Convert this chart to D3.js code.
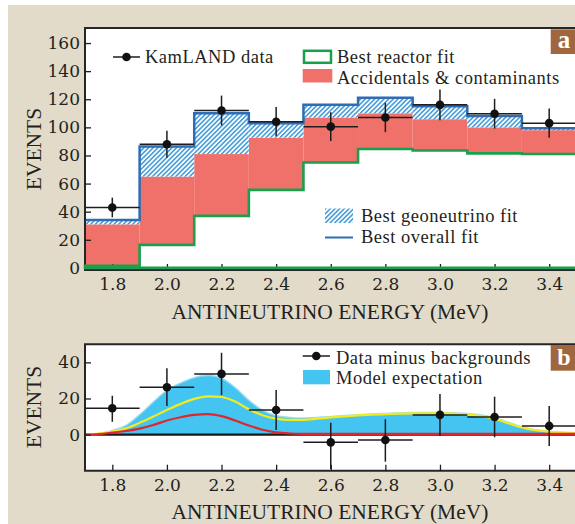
<!DOCTYPE html>
<html><head><meta charset="utf-8">
<script src="https://cdn.jsdelivr.net/npm/d3@7"></script>
<style>html,body{margin:0;padding:0;background:#fff;} svg{display:block}</style>
</head><body>
<svg id="c" width="575" height="524"></svg>
<script>
// ---------- data ----------
const binCenters = [1.8, 2.0, 2.2, 2.4, 2.6, 2.8, 3.0, 3.2, 3.4];
const binHalf = 0.1;
const xTicks = [1.8, 2.0, 2.2, 2.4, 2.6, 2.8, 3.0, 3.2, 3.4];
const yTicksTop = [0, 20, 40, 60, 80, 100, 120, 140, 160];
const yTicksBot = [0, 20, 40];

// panel a
const kamlandData = [43, 88, 112, 104, 100.5, 107, 116, 109.7, 103];
const kamlandErr  = [7, 9.6, 10.6, 10.4, 10.2, 10.4, 10.9, 10.6, 10.4];
const reactorFit  = [1.5, 16.4, 37, 55.5, 75, 84.6, 83.5, 81.5, 81];
const accidentalsTop = [31, 65, 81, 92.7, 107, 110, 105.8, 100, 98];
const overallFit  = [34, 86.3, 110, 103, 116, 121, 115, 108, 99.4];

// panel b
const diffData  = [14.6, 26.2, 33.6, 13.6, -4.3, -3, 10.9, 9.7, 4.8];
const diffErrLo = [7.1, 15.8, 21.9, 2.5, -19, -15, -0.8, -1.5, -6.3];
const diffErrHi = [21.5, 36.7, 45.3, 24.7, 6.6, 8.5, 22.5, 21, 15.8];

const modelE = [1.70,1.75,1.80,1.85,1.90,1.95,2.00,2.05,2.10,2.15,2.20,2.25,2.30,2.35,2.40,2.45,2.50,2.55,2.60,2.65,2.70,2.75,2.80,2.85,2.90,2.95,3.00,3.05,3.10,3.15,3.20,3.25,3.30,3.35,3.40,3.45,3.50];
const modelTotal = [0,0.5,2.3,5.0,11.0,18,24.5,28.5,31.5,32.8,31.2,26,19,13.5,10.5,9.5,9.2,9.5,10,10.5,11,11.4,11.7,12,12.2,12.2,12.2,12,11.6,10.8,9.3,6.8,4.2,2.6,1.8,1.2,0.9];
const modelYellow = [0,0.5,1.6,3.5,6.5,10,13.6,17,19.8,21.2,20.8,18.3,14,10.7,8.8,8.1,8.2,8.8,9.5,10.1,10.6,11,11.3,11.6,11.8,11.8,11.8,11.6,11.1,10.2,8.7,6.3,3.9,2.4,1.5,1.0,0.6];
const modelRed = [0,0.3,1.1,2.0,3.3,5.3,7.8,9.6,10.9,11.3,10.2,7.8,5.0,2.7,1.2,0.6,0.4,0.35,0.35,0.35,0.35,0.35,0.35,0.35,0.35,0.35,0.35,0.35,0.35,0.35,0.35,0.35,0.35,0.35,0.35,0.35,0.35];

// ---------- styles ----------
const C = {
  bg: '#e2dbc9', frame: '#262626', red: '#f0706a', green: '#1a9f4c',
  blue: '#2e6cb4', hatch: '#3c97d6', sky: '#44c4f1', skyEdge: '#8fd9f5',
  yellow: '#f4eb1c', redLine: '#e0262c', ink: '#1e1e1e', badge: '#a0673e'
};
const serif = "'Liberation Serif', 'Times New Roman', serif";
const numFont = "'DejaVu Serif', serif";

const svg = d3.select('#c');
svg.append('rect').attr('x', 8).attr('y', 5).attr('width', 567).attr('height', 519).attr('fill', C.bg);

const defs = svg.append('defs');
const pat = defs.append('pattern').attr('id', 'hatch').attr('patternUnits', 'userSpaceOnUse')
  .attr('width', 3.3).attr('height', 3.3).attr('patternTransform', 'rotate(45)');
pat.append('rect').attr('width', 3.3).attr('height', 3.3).attr('fill', '#fff');
pat.append('line').attr('x1', 1.6).attr('x2', 1.6).attr('y1', 0).attr('y2', 3.3)
  .attr('stroke', C.hatch).attr('stroke-width', 1.5);

const x = d3.scaleLinear().domain([1.7, 3.5]).range([85, 576.5]);
const yT = d3.scaleLinear().domain([-1.5, 170.7]).range([270, 28]);
const yB = d3.scaleLinear().domain([-20, 50]).range([470.7, 344.3]);

function drawFrameAndAxes(ys, yDom, yTicks) {
  const [lo, hi] = yDom;
  svg.append('path')
    .attr('d', `M${x(3.5)},${ys(hi)}H${x(1.7)}V${ys(lo)}H${x(3.5)}`)
    .attr('fill', 'none').attr('stroke', C.frame).attr('stroke-width', 2);
  const gx = svg.append('g').attr('transform', `translate(0,${ys(lo)})`)
    .call(d3.axisBottom(x).tickValues(xTicks).tickSize(-6).tickPadding(8).tickFormat(d3.format('.1f')));
  const gy = svg.append('g').attr('transform', `translate(${x(1.7)},0)`)
    .call(d3.axisLeft(ys).tickValues(yTicks).tickSize(-6).tickPadding(5));
  [gx, gy].forEach(g => {
    g.select('.domain').remove();
    g.attr('color', C.ink);
    g.selectAll('line').attr('stroke-width', 1.3);
    g.selectAll('text').attr('font-family', numFont).attr('font-size', 17).attr('fill', '#231f20');
  });
}

function plotBg(ys, yDom) {
  svg.append('rect').attr('x', x(1.7)).attr('y', ys(yDom[1]))
    .attr('width', x(3.5) - x(1.7)).attr('height', ys(yDom[0]) - ys(yDom[1])).attr('fill', '#fff');
}

function dataPoints(ys, vals, lo, hi) {
  const g = svg.append('g');
  binCenters.forEach((c, i) => {
    g.append('line').attr('x1', x(c - binHalf)).attr('x2', x(c + binHalf))
      .attr('y1', ys(vals[i])).attr('y2', ys(vals[i])).attr('stroke', C.ink).attr('stroke-width', 1.5);
    g.append('line').attr('x1', x(c)).attr('x2', x(c))
      .attr('y1', ys(lo[i])).attr('y2', ys(hi[i])).attr('stroke', C.ink).attr('stroke-width', 1.5);
    g.append('circle').attr('cx', x(c)).attr('cy', ys(vals[i])).attr('r', 4.3).attr('fill', '#111');
  });
}

// ================= panel a =================
plotBg(yT, [-1.5, 170.7]);
const bins = binCenters.map((c, i) => ({ lo: c - binHalf, hi: c + binHalf, r: reactorFit[i], a: accidentalsTop[i], t: overallFit[i] }));

svg.append('g').selectAll('rect').data(bins).join('rect')
  .attr('x', d => x(d.lo)).attr('width', d => x(d.hi) - x(d.lo))
  .attr('y', d => yT(d.a)).attr('height', d => yT(d.r) - yT(d.a)).attr('fill', C.red);
svg.append('g').selectAll('rect').data(bins).join('rect')
  .attr('x', d => x(d.lo)).attr('width', d => x(d.hi) - x(d.lo))
  .attr('y', d => yT(d.t)).attr('height', d => yT(d.a) - yT(d.t)).attr('fill', 'url(#hatch)');

const stepLine = d3.line().x(d => x(d[0])).y(d => yT(d[1]));
svg.append('path')
  .attr('d', stepLine(bins.flatMap(b => [[b.lo, b.t], [b.hi, b.t]])))
  .attr('fill', 'none').attr('stroke', C.blue).attr('stroke-width', 2.5);

drawFrameAndAxes(yT, [-1.5, 170.7], yTicksTop);

const greenPts = [[1.7, 0], ...bins.flatMap(b => [[b.lo, b.r], [b.hi, b.r]]), [3.5, 0]];
svg.append('path').attr('d', stepLine(greenPts) + 'Z')
  .attr('fill', 'none').attr('stroke', C.green).attr('stroke-width', 2.6);

dataPoints(yT, kamlandData, kamlandData.map((v, i) => v - kamlandErr[i]), kamlandData.map((v, i) => v + kamlandErr[i]));

// legend a
const legA = svg.append('g').attr('font-family', serif).attr('font-size', 18.5)
  .attr('letter-spacing', 0.5).attr('fill', '#231f20');
legA.append('line').attr('x1', 113).attr('x2', 140).attr('y1', 57).attr('y2', 57).attr('stroke', C.ink).attr('stroke-width', 1.5);
legA.append('circle').attr('cx', 126.5).attr('cy', 57).attr('r', 4.3).attr('fill', '#111');
legA.append('text').attr('x', 145).attr('y', 63).text('KamLAND data');
legA.append('rect').attr('x', 304).attr('y', 50.8).attr('width', 27).attr('height', 12)
  .attr('fill', 'none').attr('stroke', C.green).attr('stroke-width', 2.5);
legA.append('text').attr('x', 337).attr('y', 63).text('Best reactor fit');
legA.append('rect').attr('x', 302.7).attr('y', 69).attr('width', 29.6).attr('height', 13.5).attr('fill', C.red);
legA.append('text').attr('x', 337).attr('y', 83.6).text('Accidentals & contaminants');
legA.append('rect').attr('x', 325).attr('y', 208.5).attr('width', 28).attr('height', 14.5).attr('fill', 'url(#hatch)');
legA.append('text').attr('x', 361).attr('y', 222.3).text('Best geoneutrino fit');
legA.append('line').attr('x1', 325).attr('x2', 353).attr('y1', 237.5).attr('y2', 237.5).attr('stroke', C.blue).attr('stroke-width', 2);
legA.append('text').attr('x', 361).attr('y', 242.9).text('Best overall fit');

// badge a
svg.append('rect').attr('x', 550.7).attr('y', 29.3).attr('width', 27).attr('height', 24.7).attr('fill', C.badge);
svg.append('text').attr('x', 564).attr('y', 48.3).attr('text-anchor', 'middle')
  .attr('font-family', serif).attr('font-weight', 'bold').attr('font-size', 25).attr('fill', '#fff').text('a');

// titles a
svg.append('text').attr('x', 330).attr('y', 319).attr('text-anchor', 'middle')
  .attr('font-family', serif).attr('font-size', 21.5).attr('fill', '#231f20').text('ANTINEUTRINO ENERGY (MeV)');
svg.append('text').attr('transform', 'translate(41,149) rotate(-90)').attr('text-anchor', 'middle')
  .attr('font-family', serif).attr('font-size', 21.5).attr('fill', '#231f20').text('EVENTS');

// ================= panel b =================
plotBg(yB, [-20, 50]);
const model = modelE.map((e, i) => ({ e, t: modelTotal[i], yl: modelYellow[i], r: modelRed[i] }));
svg.append('path').datum(model)
  .attr('d', d3.area().x(d => x(d.e)).y0(yB(0)).y1(d => yB(d.t)).curve(d3.curveMonotoneX))
  .attr('fill', C.sky);
svg.append('path').datum(model)
  .attr('d', d3.line().x(d => x(d.e)).y(d => yB(d.t)).curve(d3.curveMonotoneX))
  .attr('fill', 'none').attr('stroke', C.skyEdge).attr('stroke-width', 1.6).attr('opacity', 0.8);
svg.append('line').attr('x1', x(1.7)).attr('x2', x(3.5)).attr('y1', yB(0)).attr('y2', yB(0))
  .attr('stroke', '#1a1a1a').attr('stroke-width', 2.2);
svg.append('path').datum(model)
  .attr('d', d3.line().x(d => x(d.e)).y(d => yB(d.yl)).curve(d3.curveMonotoneX))
  .attr('fill', 'none').attr('stroke', C.yellow).attr('stroke-width', 2.2);
svg.append('path').datum(model)
  .attr('d', d3.line().x(d => x(d.e)).y(d => yB(d.r)).curve(d3.curveMonotoneX))
  .attr('fill', 'none').attr('stroke', C.redLine).attr('stroke-width', 2.2);

drawFrameAndAxes(yB, [-20, 50], yTicksBot);
dataPoints(yB, diffData, diffErrLo, diffErrHi);

const legB = svg.append('g').attr('font-family', serif).attr('font-size', 18.5)
  .attr('letter-spacing', 0.5).attr('fill', '#231f20');
legB.append('line').attr('x1', 302.7).attr('x2', 330).attr('y1', 356).attr('y2', 356).attr('stroke', C.ink).attr('stroke-width', 1.5);
legB.append('circle').attr('cx', 316.3).attr('cy', 356).attr('r', 4.3).attr('fill', '#111');
legB.append('text').attr('x', 336).attr('y', 363.6).text('Data minus backgrounds');
legB.append('rect').attr('x', 303).attr('y', 370).attr('width', 27).attr('height', 14.3).attr('fill', C.sky);
legB.append('text').attr('x', 336).attr('y', 384.2).text('Model expectation');

svg.append('rect').attr('x', 550.7).attr('y', 345).attr('width', 27).attr('height', 25.7).attr('fill', C.badge);
svg.append('text').attr('x', 564).attr('y', 365).attr('text-anchor', 'middle')
  .attr('font-family', serif).attr('font-weight', 'bold').attr('font-size', 24).attr('fill', '#fff').text('b');

svg.append('text').attr('x', 330).attr('y', 519).attr('text-anchor', 'middle')
  .attr('font-family', serif).attr('font-size', 21.5).attr('fill', '#231f20').text('ANTINEUTRINO ENERGY (MeV)');
svg.append('text').attr('transform', 'translate(41,407) rotate(-90)').attr('text-anchor', 'middle')
  .attr('font-family', serif).attr('font-size', 21.5).attr('fill', '#231f20').text('EVENTS');
</script>
</body></html>
